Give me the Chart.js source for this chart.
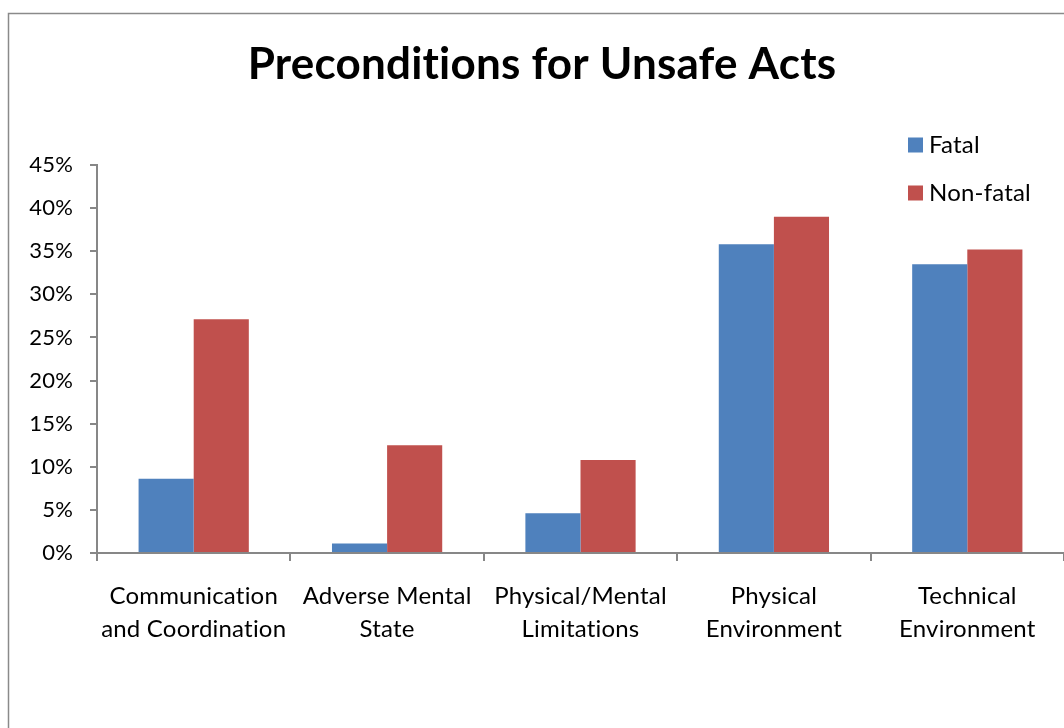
<!DOCTYPE html>
<html>
<head>
<meta charset="utf-8">
<title>Preconditions for Unsafe Acts</title>
<script src="https://cdn.jsdelivr.net/npm/chart.js@4.4.1/dist/chart.umd.min.js"></script>
<style>
  html, body { margin: 0; padding: 0; background: #fff; overflow: hidden; }
  #wrap { position: relative; width: 1064px; height: 728px; }
</style>
</head>
<body>
<div id="wrap"><canvas id="chart" width="1064" height="728"></canvas></div>
<script>
// categories and series (percent)
const categories = [
  ['Communication', 'and Coordination'],
  ['Adverse Mental', 'State'],
  ['Physical/Mental', 'Limitations'],
  ['Physical', 'Environment'],
  ['Technical', 'Environment']
];
const fatal = [8.6, 1.1, 4.6, 35.8, 33.5];
const nonFatal = [27.1, 12.5, 10.8, 39.0, 35.2];
const yTicks = [0, 5, 10, 15, 20, 25, 30, 35, 40, 45];
const chartTitle = 'Preconditions for Unsafe Acts';

const FONT = 'Lato, "Open Sans", sans-serif';
const AXIS = '#878787';

// outer frame (runs off the right and bottom edges), plus a tiny
// letter spacing so Lato doesn't swap in its "ti" ligature
const framePlugin = {
  id: 'frame',
  beforeDraw(chart) {
    const ctx = chart.ctx;
    ctx.letterSpacing = '0.2px';
    ctx.save();
    ctx.strokeStyle = '#8a8a8a';
    ctx.lineWidth = 1.5;
    ctx.strokeRect(8.5, 13.5, chart.width + 20, chart.height + 20);
    ctx.restore();
  }
};

// title sits a little right of the canvas centre
const titlePlugin = {
  id: 'bigTitle',
  afterDraw(chart) {
    const ctx = chart.ctx;
    ctx.save();
    ctx.font = 'bold 44px ' + FONT;
    ctx.fillStyle = '#000';
    ctx.textAlign = 'center';
    ctx.textBaseline = 'alphabetic';
    ctx.fillText(chartTitle, 542, 79);
    ctx.restore();
  }
};

// legend stacked vertically at the upper right
const sideLegend = {
  id: 'sideLegend',
  afterDraw(chart) {
    const ctx = chart.ctx;
    ctx.save();
    ctx.font = '24px ' + FONT;
    ctx.textBaseline = 'middle';
    chart.data.datasets.forEach((ds, i) => {
      const y = 145 + i * 48;
      ctx.fillStyle = ds.backgroundColor;
      ctx.fillRect(908, y - 7.5, 15, 15);
      ctx.fillStyle = '#000';
      ctx.fillText(ds.label, 929, y);
    });
    ctx.restore();
  }
};

new Chart(document.getElementById('chart'), {
  type: 'bar',
  data: {
    labels: categories,
    datasets: [
      { label: 'Fatal', data: fatal, backgroundColor: '#4F81BD' },
      { label: 'Non-fatal', data: nonFatal, backgroundColor: '#C0504D' }
    ]
  },
  options: {
    responsive: false,
    animation: false,
    layout: { padding: { top: 165 } },
    categoryPercentage: 0.57,
    barPercentage: 1.0,
    plugins: {
      legend: { display: false },
      tooltip: { enabled: false },
      title: { display: false }
    },
    scales: {
      x: {
        grid: { offset: true, drawOnChartArea: false, tickLength: 8, color: AXIS, lineWidth: 2 },
        border: { color: AXIS, width: 2 },
        ticks: {
          color: '#000',
          font: { family: FONT, size: 24, lineHeight: 1.375 },
          padding: 19,
          maxRotation: 0,
          autoSkip: false
        },
        afterFit(scale) { scale.height = 175; }
      },
      y: {
        min: 0,
        max: 45,
        afterBuildTicks(scale) { scale.ticks = yTicks.map(v => ({ value: v })); },
        grid: { drawOnChartArea: false, tickLength: 7, color: AXIS, lineWidth: 2 },
        border: { color: AXIS, width: 2 },
        ticks: {
          color: '#000',
          font: { family: FONT, size: 22 },
          padding: 17,
          callback: v => v + '%'
        },
        afterFit(scale) { scale.width = 97; }
      }
    }
  },
  plugins: [framePlugin, titlePlugin, sideLegend]
});
</script>
</body>
</html>
